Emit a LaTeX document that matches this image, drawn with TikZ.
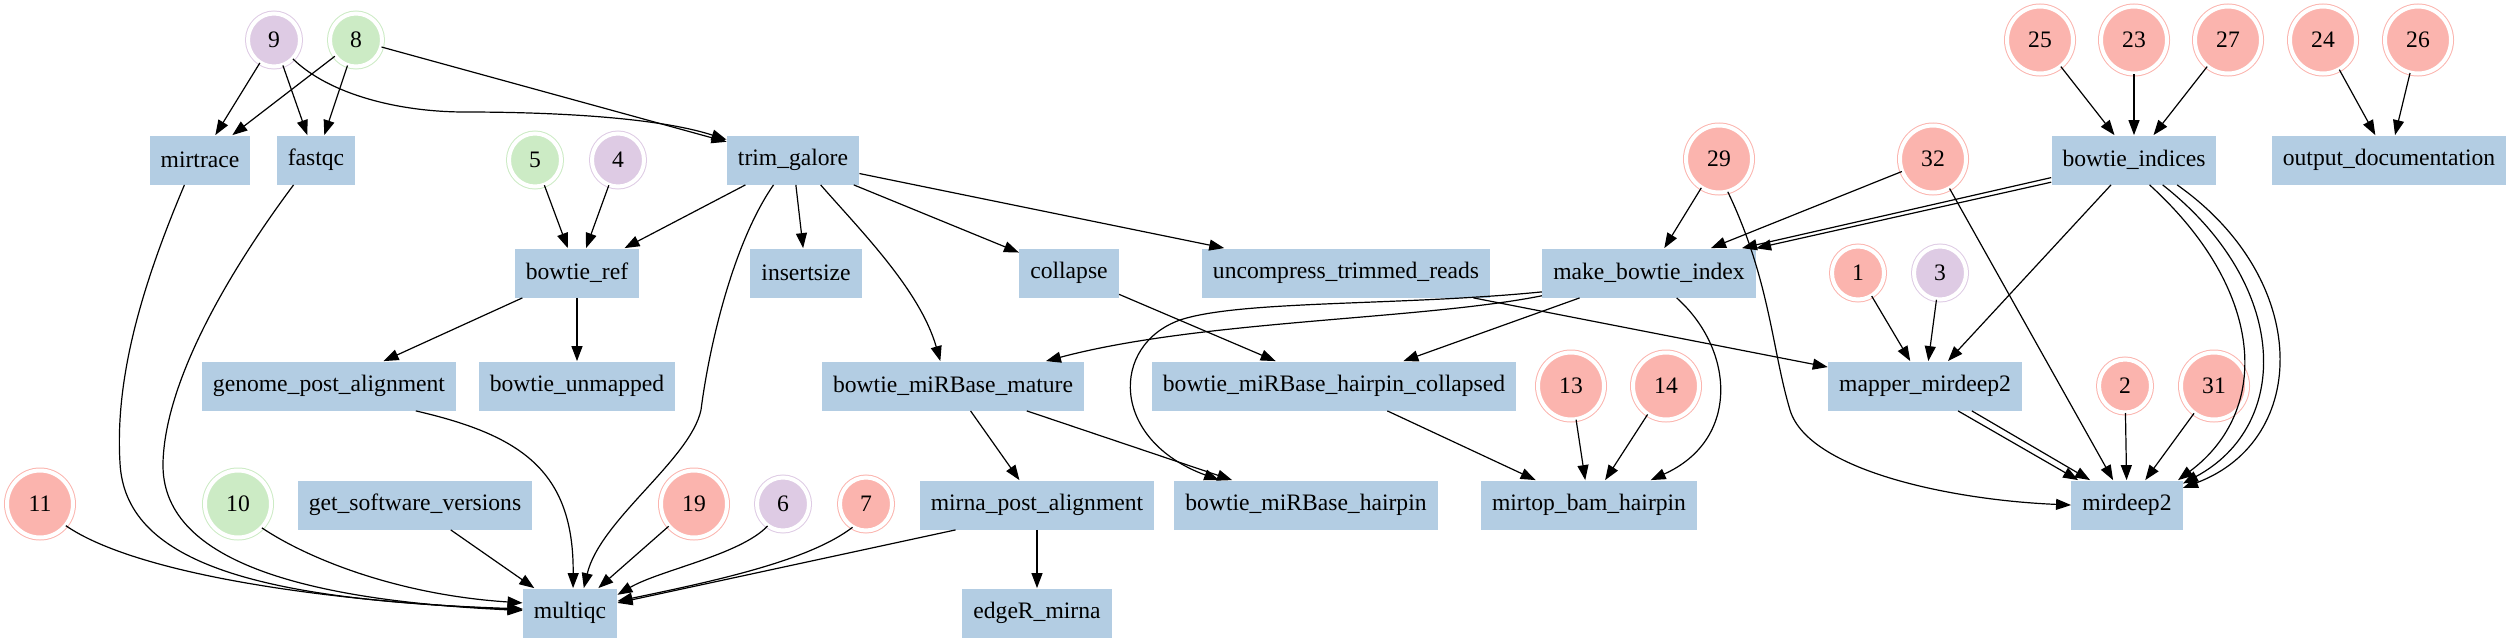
\documentclass[tikz,border=0pt]{standalone}
\usepackage{fontspec}
\setmainfont{Liberation Serif}
\usetikzlibrary{shapes.geometric,arrows.meta}
\definecolor{procblue}{HTML}{B3CDE3}
\definecolor{chanred}{HTML}{FBB4AE}
\definecolor{changreen}{HTML}{CCEBC5}
\definecolor{chanpurple}{HTML}{DECBE4}
\tikzset{
  proc/.style={fill=procblue, minimum height=24.5pt, inner xsep=5.5pt, inner ysep=0pt, font=\fontsize{11.8}{14}\selectfont},
  chan/.style={ellipse, fill=#1, draw=#1, line width=0.5pt, double=white, double distance=2pt, minimum width=26pt, minimum height=26.5pt, inner sep=0pt, font=\fontsize{11.8}{14}\selectfont},
  chanw/.style={chan=#1, minimum width=33pt, minimum height=33.5pt},
  flow/.style={-{Triangle[length=7.5pt,width=5.5pt]}, line width=0.6pt}
}
\begin{document}
\begin{tikzpicture}[x=0.5pt,y=-0.5pt]
\useasboundingbox (0,0) rectangle (2512,643);

\node [chan=chanpurple] (ch9) at (274,40) {9};
\node [chan=changreen] (ch8) at (356,40) {8};
\node [chanw=chanred] (ch25) at (2040,40) {25};
\node [chanw=chanred] (ch23) at (2134,40) {23};
\node [chanw=chanred] (ch27) at (2228,40) {27};
\node [chanw=chanred] (ch24) at (2323,40) {24};
\node [chanw=chanred] (ch26) at (2418,40) {26};

\node [proc] (mirtrace) at (200,160) {mirtrace};
\node [proc] (fastqc) at (316,160) {fastqc};
\node [chan=changreen] (ch5) at (535,160) {5};
\node [chan=chanpurple] (ch4) at (618,160) {4};
\node [proc] (trimgalore) at (793,160) {trim\_galore};
\node [chanw=chanred] (ch29) at (1719,159) {29};
\node [chanw=chanred] (ch32) at (1933,159) {32};
\node [proc] (bowtieindices) at (2134,160) {bowtie\_indices};
\node [proc] (outputdoc) at (2389,160) {output\_documentation};

\node [proc] (bowtieref) at (577,273) {bowtie\_ref};
\node [proc] (insertsize) at (806,273) {insertsize};
\node [proc] (collapse) at (1069,273) {collapse};
\node [proc] (uncompress) at (1346,273) {uncompress\_trimmed\_reads};
\node [proc] (makebowtie) at (1649,273) {make\_bowtie\_index};
\node [chan=chanred] (ch1) at (1858,273) {1};
\node [chan=chanpurple] (ch3) at (1940,273) {3};

\node [proc] (genomepost) at (329,386) {genome\_post\_alignment};
\node [proc] (bowtieunmapped) at (577,386) {bowtie\_unmapped};
\node [proc] (mature) at (953,386) {bowtie\_miRBase\_mature};
\node [proc] (hpcollapsed) at (1334,386) {bowtie\_miRBase\_hairpin\_collapsed};
\node [chanw=chanred] (ch13) at (1571,386) {13};
\node [chanw=chanred] (ch14) at (1666,386) {14};
\node [proc] (mapper) at (1925,386) {mapper\_mirdeep2};
\node [chan=chanred] (ch2) at (2125,386) {2};
\node [chanw=chanred] (ch31) at (2214,386) {31};

\node [chanw=chanred] (ch11) at (40,504) {11};
\node [chanw=changreen] (ch10) at (238,504) {10};
\node [proc] (softver) at (415,505) {get\_software\_versions};
\node [chanw=chanred] (ch19) at (694,504) {19};
\node [chan=chanpurple] (ch6) at (783,504) {6};
\node [chan=chanred] (ch7) at (866,504) {7};
\node [proc] (mirnapost) at (1037,505) {mirna\_post\_alignment};
\node [proc] (hairpin) at (1306,505) {bowtie\_miRBase\_hairpin};
\node [proc] (mirtop) at (1589,505) {mirtop\_bam\_hairpin};
\node [proc] (mirdeep) at (2127,505) {mirdeep2};

\node [proc] (multiqc) at (570,613) {multiqc};
\node [proc] (edger) at (1037,613) {edgeR\_mirna};

\draw [flow] (ch9) -- (mirtrace);
\draw [flow] (ch9) -- (fastqc);
\draw [flow] (ch9.-45) .. controls (330,95) and (400,112) .. (465,112) .. controls (530,112) and (650,115) .. (trimgalore.163);
\draw [flow] (ch8) -- (mirtrace);
\draw [flow] (ch8) -- (fastqc);
\draw [flow] (ch8) -- (trimgalore);
\draw [flow] (ch5) -- (bowtieref);
\draw [flow] (ch4) -- (bowtieref);
\draw [flow] (ch25) -- (bowtieindices);
\draw [flow] (ch23) -- (bowtieindices);
\draw [flow] (ch27) -- (bowtieindices);
\draw [flow] (ch24) -- (outputdoc);
\draw [flow] (ch26) -- (outputdoc);

\draw [flow] (trimgalore) -- (bowtieref);
\draw [flow] (trimgalore) -- (insertsize);
\draw [flow] (trimgalore) -- (collapse);
\draw [flow] (trimgalore) -- (uncompress);
\draw [flow] (trimgalore.-42) .. controls (860,230) and (920,290) .. (mature.117);
\draw [flow] (trimgalore.232) .. controls (735,240) and (710,340) .. (701,410) .. controls (690,460) and (600,520) .. (multiqc.61);

\draw [flow] (bowtieref) -- (genomepost);
\draw [flow] (bowtieref) -- (bowtieunmapped);
\draw [flow] (collapse) -- (hpcollapsed);
\draw [flow] (uncompress) -- (mapper);

\draw [flow] (ch29) -- (makebowtie);
\draw [flow] (ch32) -- (makebowtie);
\draw [flow] (bowtieindices.192) -- (makebowtie.15);
\draw [flow] (bowtieindices.195) -- (makebowtie.13);
\draw [flow] (ch29.-75) .. controls (1770,280) and (1772,350) .. (1790,410) .. controls (1808,470) and (1950,500) .. (mirdeep.west);
\draw [flow] (ch32) -- (mirdeep);
\draw [flow] (bowtieindices) -- (mapper);
\draw [flow] (bowtieindices.-58) .. controls (2265,290) and (2272,410) .. (mirdeep.26);
\draw [flow] (bowtieindices.-41) .. controls (2290,285) and (2292,425) .. (mirdeep.21);
\draw [flow] (bowtieindices.-30) .. controls (2312,280) and (2310,440) .. (mirdeep.17);
\draw [flow] (ch1) -- (mapper);
\draw [flow] (ch3) -- (mapper);

\draw [flow] (makebowtie.192) .. controls (1420,320) and (1200,320) .. (mature.15);
\draw [flow] (makebowtie.190) .. controls (1400,306) and (1240,300) .. (1180,320) .. controls (1110,345) and (1110,440) .. (hairpin.164);
\draw [flow] (makebowtie) -- (hpcollapsed);
\draw [flow] (makebowtie.-42) .. controls (1735,350) and (1740,440) .. (mirtop.22);

\draw [flow] (mapper.-37) -- (mirdeep.153);
\draw [flow] (mapper.-28) -- (mirdeep.146);
\draw [flow] (ch2) -- (mirdeep);
\draw [flow] (ch31) -- (mirdeep);

\draw [flow] (hpcollapsed) -- (mirtop);
\draw [flow] (ch13) -- (mirtop);
\draw [flow] (ch14) -- (mirtop);
\draw [flow] (mature) -- (mirnapost);
\draw [flow] (mature) -- (hairpin);
\draw [flow] (mirnapost) -- (edger);

\draw [flow] (mirtrace.238) .. controls (140,290) and (115,380) .. (120,463) .. controls (125,560) and (250,600) .. (multiqc.175);
\draw [flow] (fastqc.228) .. controls (230,270) and (165,380) .. (163,463) .. controls (161,560) and (300,600) .. (multiqc.177);
\draw [flow] (ch11.-40) .. controls (130,570) and (300,600) .. (multiqc.176);
\draw [flow] (ch10.-45) .. controls (310,560) and (400,595) .. (multiqc.168);
\draw [flow] (softver) -- (multiqc);
\draw [flow] (genomepost.-16) .. controls (520,435) and (574,470) .. (multiqc.83);
\draw [flow] (ch19) -- (multiqc);
\draw [flow] (ch6.-125) .. controls (740,555) and (660,570) .. (multiqc.21);
\draw [flow] (ch7.-120) .. controls (810,560) and (720,580) .. (multiqc.14);
\draw [flow] (mirnapost.197) -- (multiqc.12);
\end{tikzpicture}
\end{document}
